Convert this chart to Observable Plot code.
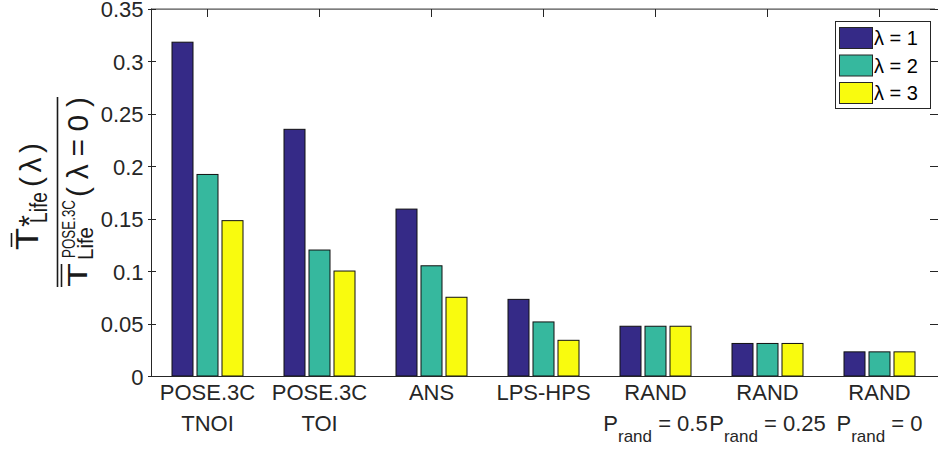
<!DOCTYPE html>
<html><head><meta charset="utf-8">
<script src="https://cdn.jsdelivr.net/npm/d3@7"></script>
<script src="https://cdn.jsdelivr.net/npm/@observablehq/plot@0.6"></script>
<style>body{margin:0;background:#fff;} svg{display:block}</style>
</head><body><div id="chart"></div>
<script>
// ---- data ----
const categories = ["POSE.3C TNOI", "POSE.3C TOI", "ANS", "LPS-HPS", "RAND 0.5", "RAND 0.25", "RAND 0"];
const labelLine1 = ["POSE.3C", "POSE.3C", "ANS", "LPS-HPS", "RAND", "RAND", "RAND"];
const labelLine2 = ["TNOI", "TOI", "", "", "P_rand = 0.5", "P_rand = 0.25", "P_rand = 0"];
const lambdas = ["λ = 1", "λ = 2", "λ = 3"];
const lambda1 = [0.318, 0.235, 0.159, 0.073, 0.0474, 0.031, 0.023];
const lambda2 = [0.192, 0.120, 0.105, 0.0515, 0.0474, 0.031, 0.023];
const lambda3 = [0.148, 0.100, 0.075, 0.034, 0.0474, 0.031, 0.023];
const colors = ["#352a87", "#36b89e", "#f9fb0e"];
const yTicks = [0, 0.05, 0.1, 0.15, 0.2, 0.25, 0.3, 0.35];

const series = [lambda1, lambda2, lambda3];
const table = categories.flatMap((c, i) => lambdas.map((l, j) => ({cat: c, lam: l, value: series[j][i]})));
const FONT = "Liberation Sans, Arial, Helvetica, sans-serif";
const INK = "#262626";

const plot = Plot.plot({
  width: 938, height: 456,
  marginLeft: 148, marginRight: 0, marginTop: 8.6, marginBottom: 80,
  style: {fontFamily: FONT, color: INK, background: "#fff", overflow: "visible"},
  fx: {domain: categories, padding: 0, axis: null},
  x: {domain: lambdas, paddingInner: 0.18, paddingOuter: 0.8, axis: null},
  y: {domain: [0, 0.35], axis: null},
  color: {domain: lambdas, range: colors},
  marks: [
    Plot.barY(table, {fx: "cat", x: "lam", y: "value", fill: "lam", stroke: "#111", strokeWidth: 1}),
    Plot.ruleY([0], {stroke: INK}),
    Plot.ruleY([0.35], {stroke: INK}),
    Plot.frame({anchor: "left", facet: "super", stroke: INK}),
    Plot.axisY({anchor: "left", ticks: yTicks, tickSize: 0, tickPadding: 8, dy: 1, tickFormat: d3.format("~g"), fontSize: 22, label: null}),
    Plot.text(categories, {fx: d => d, text: (d, i) => labelLine1[i], frameAnchor: "bottom", dy: 23.5, fontSize: 22, fill: INK}),
    Plot.text(categories, {fx: d => d, text: (d, i) => labelLine2[i], frameAnchor: "bottom", dy: 54, fontSize: 22, fill: INK})
  ]
});
document.getElementById("chart").appendChild(plot);

const svg = d3.select(plot);

// inward tick marks (left, right, top), placed with the plot's own scales
const ys = plot.scale("y");
const fxs = plot.scale("fx");
const [xL, xR] = [148, 938];
const tk = svg.append("g").attr("stroke", INK).attr("stroke-width", 1);
yTicks.forEach(t => {
  const y = Math.round(ys.apply(t)) + 0.5;
  tk.append("line").attr("x1", xL).attr("x2", xL + 8).attr("y1", y).attr("y2", y);
  tk.append("line").attr("x1", xR).attr("x2", xR - 8).attr("y1", y).attr("y2", y);
});
const yTop = Math.round(ys.apply(0.35));
const bw = fxs.bandwidth ?? (fxs.range[1] - fxs.range[0]) / categories.length;
categories.forEach(c => {
  const x = Math.round(fxs.apply(c) + bw / 2) + 0.5;
  tk.append("line").attr("x1", x).attr("x2", x).attr("y1", yTop).attr("y2", yTop + 8);
});

// subscripts in the second line of the RAND labels
svg.selectAll("text").filter(function() { return this.textContent.startsWith("P_rand"); }).each(function() {
  const rest = this.textContent.slice(6);
  const t = d3.select(this);
  t.text(null);
  t.append("tspan").text("P");
  t.append("tspan").attr("font-size", 17).attr("dy", 11).text("rand");
  t.append("tspan").attr("dy", -11).text(rest);
});

// legend
const color = plot.scale("color");
const lg = svg.append("g").attr("font-family", FONT).attr("font-size", 20).attr("fill", "#000")
  .attr("text-anchor", "start");
lg.append("rect").attr("x", 835.5).attr("y", 21.5).attr("width", 95).attr("height", 87)
  .attr("fill", "#fff").attr("stroke", INK);
color.domain.forEach((l, i) => {
  const y = 27 + i * 27.5;
  lg.append("rect").attr("x", 839.5).attr("y", y + 0.5).attr("width", 33).attr("height", 21)
    .attr("fill", color.range[i]).attr("stroke", INK);
  lg.append("text").attr("x", 874).attr("y", y + 18).text(l);
});

// y-axis title (fraction), drawn in a rotated frame
const yl = svg.append("g").attr("transform", "translate(57.5,192) rotate(-90)")
  .attr("font-family", FONT).attr("fill", "#1a1a1a").attr("text-anchor", "start");
function piece(text, x, y, size, len, adjust = "spacingAndGlyphs") {
  yl.append("text").attr("x", x).attr("y", y).attr("font-size", size)
    .attr("textLength", len).attr("lengthAdjust", adjust).text(text);
}
function bar(x1, x2, y) {
  yl.append("line").attr("x1", x1).attr("x2", x2).attr("y1", y).attr("y2", y)
    .attr("stroke", "#1a1a1a").attr("stroke-width", 1.6);
}
// numerator
bar(-55, -41, -46);
piece("T", -58, -20, 31, 22);
piece("*", -35, -19, 30, 12);
piece("Life", -31, -11, 23, 31);
piece("(λ)", 5, -17, 30, 44, "spacing");
// fraction line
bar(-95, 95, 0);
// denominator
bar(-95, -72, 4);
piece("T", -95, 29, 28, 24);
piece("POSE.3C", -66, 17, 18, 58);
piece("Life", -68, 35, 22, 33);
piece("(λ=0)", -5, 30, 30, 100, "spacing");
</script></body></html>
